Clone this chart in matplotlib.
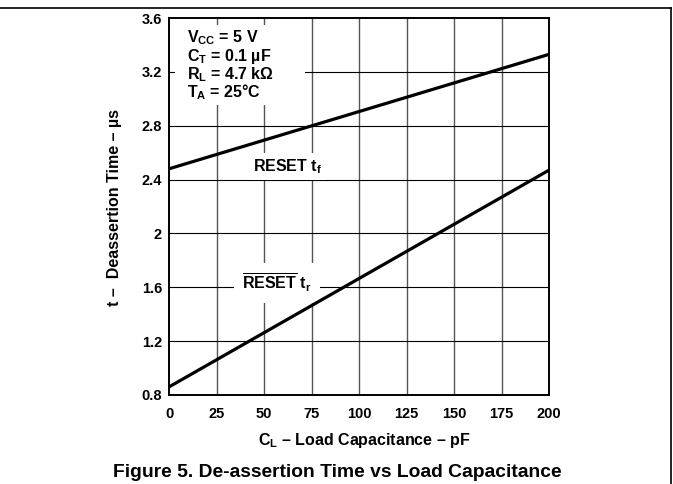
import matplotlib
matplotlib.use("Agg")
import matplotlib.pyplot as plt
from matplotlib.lines import Line2D
from matplotlib.patches import Rectangle

# ---- data ----
load_cap = [0, 200]                 # pF
reset_tf = [2.48, 3.33]             # us
reset_tr = [0.86, 2.47]             # us
x_ticks = [0, 25, 50, 75, 100, 125, 150, 175, 200]
y_ticks = [0.8, 1.2, 1.6, 2.0, 2.4, 2.8, 3.2, 3.6]
y_tick_labels = ["0.8", "1.2", "1.6", "2", "2.4", "2.8", "3.2", "3.6"]
conditions = [r"V$_{\mathregular{CC}}$ = 5 V",
              r"C$_{\mathregular{T}}$ = 0.1 µF",
              r"R$_{\mathregular{L}}$ = 4.7 kΩ",
              r"T$_{\mathregular{A}}$ = 25°C"]

plt.rcParams["font.family"] = ["Liberation Sans", "DejaVu Sans"]
plt.rcParams["font.weight"] = "bold"
plt.rcParams["mathtext.fontset"] = "custom"
plt.rcParams["mathtext.rm"] = "Liberation Sans:bold"
plt.rcParams["mathtext.it"] = "Liberation Sans:bold"
plt.rcParams["mathtext.bf"] = "Liberation Sans:bold"
plt.rcParams["mathtext.default"] = "rm"

W, H = 673, 484
fig = plt.figure(figsize=(W / 100, H / 100), dpi=100)
ax = fig.add_axes([169 / W, 1 - 395 / H, 380 / W, 377 / H])

ax.set_xlim(0, 200)
ax.set_ylim(0.8, 3.6)
ax.set_xticks(x_ticks)
ax.set_yticks(y_ticks)
ax.set_yticklabels(y_tick_labels)
ax.tick_params(axis="both", length=0, labelsize=10.5)
ax.tick_params(axis="y", pad=5)
ax.tick_params(axis="x", pad=9)
for lab in ax.get_xticklabels() + ax.get_yticklabels():
    lab.set_fontweight("bold")

# grid
for xv in x_ticks[1:-1]:
    ax.axvline(xv, color="#555555", lw=1.0, zorder=1)
for yv in y_ticks[1:-1]:
    ax.axhline(yv, color="black", lw=0.8, zorder=1)

for s in ax.spines.values():
    s.set_linewidth(1.4)
    s.set_color("black")
    s.set_zorder(7)

# curves (above the label boxes)
ax.plot(load_cap, reset_tf, color="black", lw=2.3, zorder=6, solid_capstyle="butt")
ax.plot(load_cap, reset_tr, color="black", lw=2.3, zorder=6, solid_capstyle="butt")

# conditions box
ax.add_patch(Rectangle((6 / 380, (395 - 105) / 377), 130 / 380, 80 / 377,
                       transform=ax.transAxes, facecolor="white",
                       edgecolor="none", zorder=4))
baselines = [42, 61, 79, 97]
for txt, b in zip(conditions, baselines):
    ax.text(18 / 380, (395 - b) / 377, txt, transform=ax.transAxes,
            fontsize=11.5, fontweight="bold", ha="left", va="baseline", zorder=5)

# curve labels
ax.text(44.2, 2.465, r"RESET t$_{\mathregular{f}}$", fontsize=11.5, fontweight="bold",
        ha="left", va="baseline", zorder=5,
        bbox=dict(facecolor="white", edgecolor="none", pad=3))
ax.text(38.4, 1.582, r"$\overline{\mathregular{RESET}}$ t$_{\mathregular{r}}$",
        fontsize=11.5, fontweight="bold", ha="left", va="baseline", zorder=5,
        bbox=dict(facecolor="white", edgecolor="none", pad=6))

# axis labels and title
fig.text(364 / W, 1 - 445 / H, r"C$_{\mathregular{L}}$ – Load Capacitance – pF",
         fontsize=11.5, fontweight="bold", ha="center", va="baseline")
fig.text(115 / W, 1 - 208 / H, "t –  Deassertion Time – µs", rotation=90,
         fontsize=11.5, fontweight="bold", ha="center", va="center")
fig.text(337 / W, 1 - 477 / H, "Figure 5. De-assertion Time vs Load Capacitance",
         fontsize=13.9, fontweight="bold", ha="center", va="baseline")

# page frame lines
fig.add_artist(Line2D([0, 670.5 / W], [1 - 8 / H, 1 - 8 / H], color="black",
                      lw=1.2, transform=fig.transFigure))
fig.add_artist(Line2D([670.5 / W, 670.5 / W], [1 - 8 / H, 0], color="black",
                      lw=1.2, transform=fig.transFigure))

fig.savefig("out.png", dpi=100)
